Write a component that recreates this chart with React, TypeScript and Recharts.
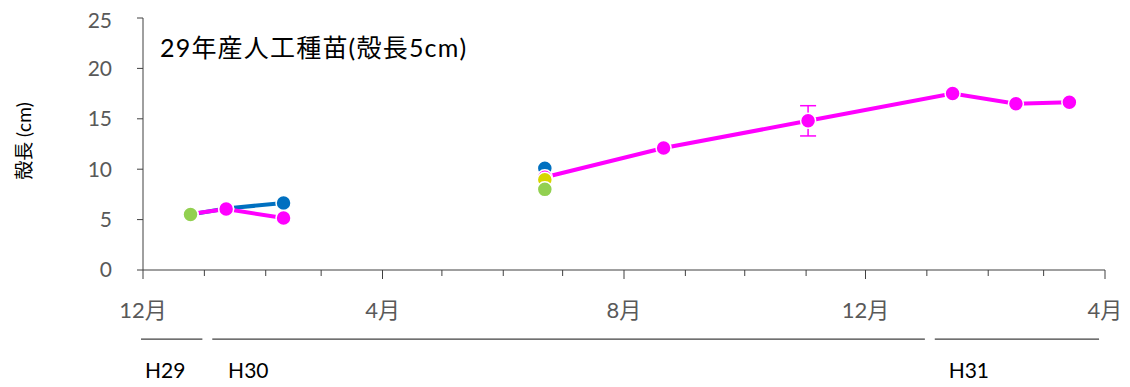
import React from "react";
import {
  LineChart,
  Line,
  XAxis,
  YAxis,
  ErrorBar,
  ReferenceLine,
  ReferenceDot,
} from "recharts";

const FONT = "Lato, 'Noto Sans CJK JP', sans-serif";
const AXIS_COLOR = "#404040";
const TICK_COLOR = "#595959";

// x axis runs from Dec 2017 to Apr 2019, one tick per month
const AXIS_START = "2017-12-01";
const AXIS_END = "2019-04-01";
const monthTicks = [
  "2017-12-01", "2018-01-01", "2018-02-01", "2018-03-01", "2018-04-01",
  "2018-05-01", "2018-06-01", "2018-07-01", "2018-08-01", "2018-09-01",
  "2018-10-01", "2018-11-01", "2018-12-01", "2019-01-01", "2019-02-01",
  "2019-03-01", "2019-04-01",
];
const monthLabels = [
  "12月", "", "", "", "4月", "", "", "", "8月", "", "", "", "12月", "", "", "", "4月",
];

// sampling dates and shell length (cm)
const sampleDates = [
  "2017-12-25", "2018-01-12", "2018-02-10", "2018-06-22", "2018-08-21",
  "2018-11-02", "2019-01-14", "2019-02-15", "2019-03-14",
];
const period = [0, 0, 0, 1, 1, 1, 1, 1, 1];
const blue = [5.5, 6.1, 6.65, 10.1, null, null, null, null, null];
const yellow = [5.5, null, null, 8.95, null, null, null, null, null];
const green = [5.5, null, null, 8.0, null, null, null, null, null];
const magenta = [5.55, 6.05, 5.15, 9.2, 12.1, 14.8, 17.5, 16.5, 16.65];
const magentaErr = [0, 0, 0, 0, 0, 1.5, 0, 0, 0];

// year brackets under the axis
const yearNames = ["H29", "H30", "H31"];
const yearFrom = ["2017-11-30", "2018-01-05", "2019-01-05"];
const yearTo = ["2017-12-31", "2018-12-31", "2019-03-29"];
const yearLabelAt = ["2017-12-02", "2018-01-13", "2019-01-12"];
const BRACKET_Y = -6.85;
const YEAR_LABEL_Y = -10.7;

const dayOf = (s: string) => (Date.parse(s) - Date.parse(AXIS_START)) / 86400000;

const rows = sampleDates.map((d, i) => ({
  day: dayOf(d),
  period: period[i],
  blue: blue[i],
  yellow: yellow[i],
  green: green[i],
  magenta: magenta[i],
  err: magentaErr[i],
}));

const seriesData = (key: "blue" | "yellow" | "green" | "magenta", p: number) =>
  rows.filter((r) => r.period === p && r[key] != null);

const SERIES: { key: "blue" | "yellow" | "green" | "magenta"; color: string }[] = [
  { key: "blue", color: "#0070C0" },
  { key: "magenta", color: "#FF00FF" },
  { key: "yellow", color: "#D6D600" },
  { key: "green", color: "#92D050" },
];

const TICK_SIZE = 6;
const TICK_MARGIN = 20;

const MonthTick = (props: any) => {
  const { x, y, index } = props;
  const label = monthLabels[index] ?? "";
  const axisY = y - TICK_SIZE - TICK_MARGIN;
  const major = label !== "";
  return (
    <g>
      <line x1={x} x2={x} y1={axisY} y2={axisY + (major ? 9 : 6)} stroke={AXIS_COLOR} />
      {major && (
        <text
          x={x}
          y={axisY + 48}
          textAnchor="middle"
          fill={TICK_COLOR}
          fontSize={22}
          fontFamily={FONT}
        >
          {label}
        </text>
      )}
    </g>
  );
};

export default function App() {
  const W = 1122;
  const H = 379;
  return (
    <div style={{ position: "relative", width: W, height: H }}>
      <LineChart width={W} height={H} margin={{ top: 10, right: 25, bottom: 77, left: 0 }}>
        <XAxis
          type="number"
          dataKey="day"
          domain={[0, dayOf(AXIS_END)]}
          ticks={monthTicks.map(dayOf)}
          interval={0}
          allowDataOverflow
          height={40}
          tickLine={false}
          tickSize={TICK_SIZE}
          tickMargin={TICK_MARGIN}
          tick={<MonthTick />}
          axisLine={{ stroke: AXIS_COLOR }}
        />
        <YAxis
          type="number"
          domain={[0, 25]}
          ticks={[0, 5, 10, 15, 20, 25]}
          width={135}
          tickSize={6}
          tickMargin={25}
          tick={{ fill: TICK_COLOR, fontSize: 21, fontFamily: FONT }}
          axisLine={{ stroke: AXIS_COLOR }}
          tickLine={{ stroke: AXIS_COLOR }}
        />
        {yearNames.map((name, i) => (
          <ReferenceLine
            key={"br" + name}
            ifOverflow="visible"
            segment={[
              { x: dayOf(yearFrom[i]), y: BRACKET_Y },
              { x: dayOf(yearTo[i]), y: BRACKET_Y },
            ]}
            stroke={AXIS_COLOR}
            strokeWidth={1.2}
          />
        ))}
        {yearNames.map((name, i) => (
          <ReferenceDot
            key={"yl" + name}
            ifOverflow="visible"
            x={dayOf(yearLabelAt[i])}
            y={YEAR_LABEL_Y}
            r={0}
            shape={(p: any) => (
              <text x={p.cx} y={p.cy} fill="#000" fontSize={21} fontFamily={FONT}>
                {name}
              </text>
            )}
          />
        ))}
        {SERIES.flatMap((s) =>
          [0, 1].map((p) => (
            <Line
              key={s.key + p}
              data={seriesData(s.key, p)}
              dataKey={s.key}
              type="linear"
              stroke={s.color}
              strokeWidth={4}
              dot={{ r: 7.5, fill: s.color, stroke: "#fff", strokeWidth: 1.5 }}
              activeDot={false}
              isAnimationActive={false}
            >
              {s.key === "magenta" && (
                <ErrorBar dataKey="err" width={8} stroke={s.color} strokeWidth={1.5} direction="y" />
              )}
            </Line>
          ))
        )}
      </LineChart>
      <svg
        width={W}
        height={H}
        style={{ position: "absolute", left: 0, top: 0, pointerEvents: "none" }}
      >
        <text x={152} y={49} fontSize={25} letterSpacing={1.2} fontFamily={FONT} fill="#000">
          29年産人工種苗(殻長5cm)
        </text>
        <text
          x={0}
          y={0}
          transform="translate(15 133) rotate(-90)"
          textAnchor="middle"
          dominantBaseline="central"
          fontSize={19}
          fontFamily={FONT}
          fill="#000"
        >
          殻長 (cm)
        </text>
      </svg>
    </div>
  );
}
